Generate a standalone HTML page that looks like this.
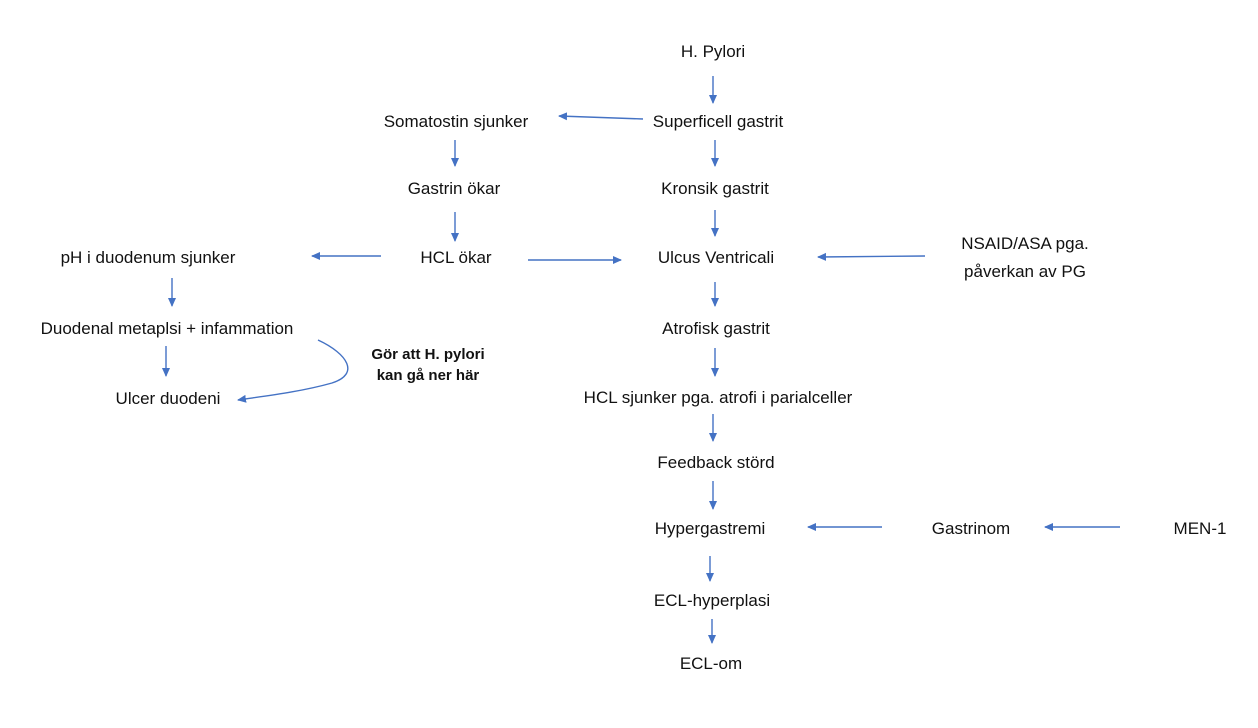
<!DOCTYPE html>
<html><head><meta charset="utf-8"><style>
html,body{margin:0;padding:0;background:#fff;}
svg{display:block;}
text{font-family:"Liberation Sans",sans-serif;font-size:17px;fill:#111;text-anchor:middle;}
.b{font-weight:bold;font-size:15px;}
</style></head><body>
<svg width="1258" height="728" viewBox="0 0 1258 728" xmlns="http://www.w3.org/2000/svg">
<defs><marker id="a" markerWidth="9" markerHeight="9" refX="8" refY="4.5" orient="auto" markerUnits="userSpaceOnUse"><path d="M0,0.5 L9,4.5 L0,8.5 Z" fill="#4472c4"/></marker></defs>
<text x="713" y="57">H. Pylori</text>
<text x="718" y="127">Superficell gastrit</text>
<text x="456" y="127">Somatostin sjunker</text>
<text x="715" y="194">Kronsik gastrit</text>
<text x="454" y="194">Gastrin ökar</text>
<text x="456" y="263">HCL ökar</text>
<text x="148" y="263">pH i duodenum sjunker</text>
<text x="716" y="263">Ulcus Ventricali</text>
<text x="1025" y="249">NSAID/ASA pga.</text>
<text x="1025" y="277">påverkan av PG</text>
<text x="167" y="334">Duodenal  metaplsi + infammation</text>
<text x="716" y="334">Atrofisk gastrit</text>
<text class="b" x="428" y="359">Gör att H. pylori</text>
<text class="b" x="428" y="380">kan gå ner här</text>
<text x="168" y="404">Ulcer duodeni</text>
<text x="718" y="403">HCL sjunker pga. atrofi i parialceller</text>
<text x="716" y="468">Feedback störd</text>
<text x="710" y="534">Hypergastremi</text>
<text x="971" y="534">Gastrinom</text>
<text x="1200" y="534">MEN-1</text>
<text x="712" y="606">ECL-hyperplasi</text>
<text x="711" y="669">ECL-om</text>
<g stroke="#4472c4" stroke-width="1.4" fill="none" marker-end="url(#a)">
<line x1="713" y1="76" x2="713" y2="103"/>
<line x1="643" y1="119" x2="559" y2="116"/>
<line x1="715" y1="140" x2="715" y2="166"/>
<line x1="455" y1="140" x2="455" y2="166"/>
<line x1="715" y1="210" x2="715" y2="236"/>
<line x1="455" y1="212" x2="455" y2="241"/>
<line x1="381" y1="256" x2="312" y2="256"/>
<line x1="528" y1="260" x2="621" y2="260"/>
<line x1="925" y1="256" x2="818" y2="257"/>
<line x1="172" y1="278" x2="172" y2="306"/>
<line x1="715" y1="282" x2="715" y2="306"/>
<line x1="166" y1="346" x2="166" y2="376"/>
<line x1="715" y1="348" x2="715" y2="376"/>
<line x1="713" y1="414" x2="713" y2="441"/>
<line x1="713" y1="481" x2="713" y2="509"/>
<line x1="882" y1="527" x2="808" y2="527"/>
<line x1="1120" y1="527" x2="1045" y2="527"/>
<line x1="710" y1="556" x2="710" y2="581"/>
<line x1="712" y1="619" x2="712" y2="643"/>
<path d="M318,340 C348,354 360,374 332,383 C300,392 265,396 238,400"/>
</g>
</svg>
</body></html>
